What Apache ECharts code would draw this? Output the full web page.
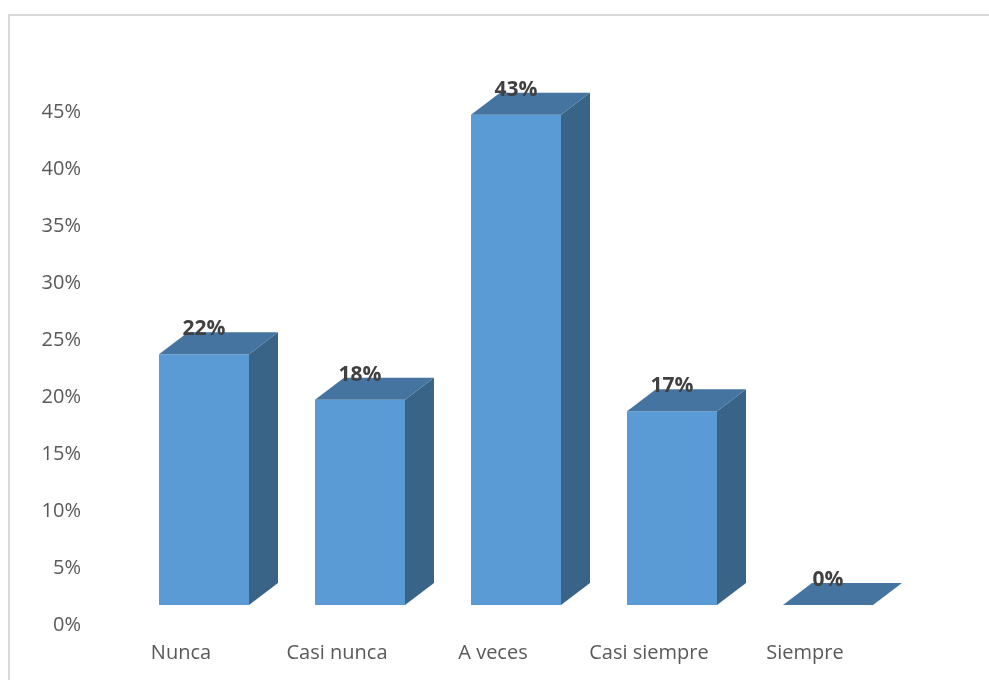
<!DOCTYPE html>
<html>
<head>
<meta charset="utf-8">
<script src="https://cdn.jsdelivr.net/npm/echarts@6/dist/echarts.min.js"></script>
<style>html,body{margin:0;padding:0;background:#fff;}#main{width:989px;height:680px;}</style>
</head>
<body>
<div id="main"></div>
<script>
const categories = ['Nunca', 'Casi nunca', 'A veces', 'Casi siempre', 'Siempre'];
const values = [22, 18, 43, 17, 0];
const yTicks = [0, 5, 10, 15, 20, 25, 30, 35, 40, 45];

const chart = echarts.init(document.getElementById('main'), null, {renderer: 'canvas'});

const BAR_W = 90, DX = 29, DY = -22, SHIFT_X = 23, SHIFT_Y = -20;

function renderItem(params, api) {
  const idx = api.value(0);
  const v = api.value(1);
  const c = api.coord([idx, v]);
  const c0 = api.coord([idx, 0]);
  const fx = c[0] + SHIFT_X;
  const left = fx - BAR_W / 2, right = fx + BAR_W / 2;
  const bottom = c0[1] + SHIFT_Y, top = c[1] + SHIFT_Y;
  const children = [];
  if (bottom - top > 0.5) {
    children.push({type: 'polygon', shape: {points: [[right, top], [right + DX, top + DY], [right + DX, bottom + DY], [right, bottom]]}, style: {fill: '#3a6388'}});
    children.push({type: 'rect', shape: {x: left, y: top, width: BAR_W, height: bottom - top}, style: {fill: '#5b9bd5'}});
  }
  children.push({type: 'polygon', shape: {points: [[left, top], [right, top], [right + DX, top + DY], [left + DX, top + DY]]}, style: {fill: '#4574a1'}});
  children.push({type: 'text', style: {x: fx, y: top + DY - 3, text: v + '%', align: 'center', verticalAlign: 'middle', fill: '#404040', font: 'bold 21px "Open Sans"'}});
  return {type: 'group', children: children};
}

chart.setOption({
  animation: false,
  backgroundColor: '#fff',
  graphic: [{type: 'rect', shape: {x: 9, y: 15, width: 1000, height: 700}, style: {fill: 'none', stroke: '#d9d9d9', lineWidth: 2}, z: -1}],
  grid: {left: 103, right: 106, top: 112, bottom: 55},
  xAxis: {
    type: 'category', data: categories,
    axisLine: {show: false}, axisTick: {show: false},
    axisLabel: {color: '#595959', fontFamily: 'Open Sans', fontSize: 20, margin: 18, interval: 0}
  },
  yAxis: {
    type: 'value', min: 0, max: 45, interval: 5,
    axisLine: {show: false}, axisTick: {show: false}, splitLine: {show: false},
    axisLabel: {color: '#595959', fontFamily: 'Open Sans', fontSize: 20, margin: 22, formatter: function (val) { return yTicks.indexOf(val) >= 0 ? val + '%' : ''; }}
  },
  series: [{
    type: 'custom', renderItem: renderItem, clip: false,
    data: values.map(function (v, i) { return [i, v]; }),
    encode: {x: 0, y: 1}
  }]
});
</script>
</body>
</html>
